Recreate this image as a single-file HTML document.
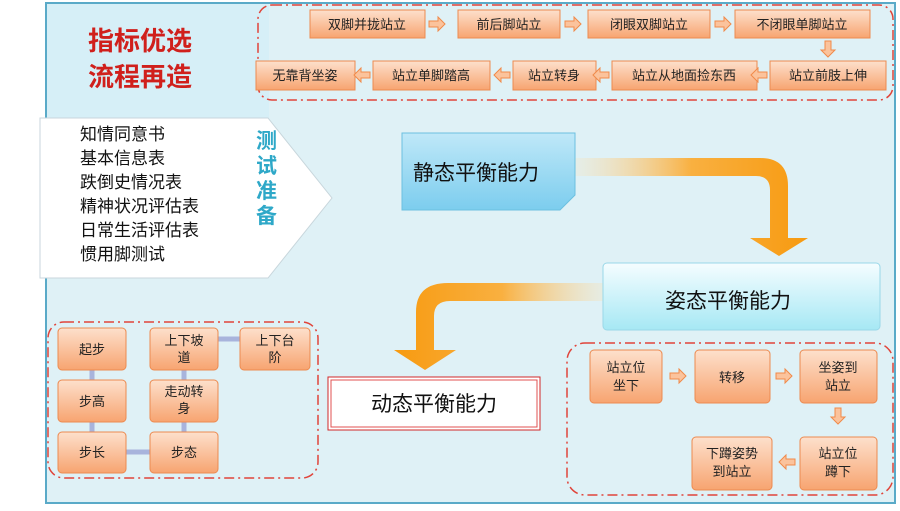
<!DOCTYPE html>
<html><head><meta charset="utf-8"><style>
body{margin:0;width:900px;height:511px;background:#fff;overflow:hidden}
svg{display:block}
text{font-family:"Liberation Sans","Noto Sans CJK SC",sans-serif}
</style></head><body>
<svg width="900" height="511" viewBox="0 0 900 511">
<defs>
<linearGradient id="ob" x1="0" y1="0" x2="0" y2="1"><stop offset="0" stop-color="#fde0cc"/><stop offset="1" stop-color="#f7a470"/></linearGradient>
<linearGradient id="bl" x1="0" y1="0" x2="0" y2="1"><stop offset="0" stop-color="#bfe8f8"/><stop offset="1" stop-color="#7ccdee"/></linearGradient>
<linearGradient id="cy" x1="0" y1="0" x2="0" y2="1"><stop offset="0" stop-color="#f5fdff"/><stop offset="1" stop-color="#a6e8f4"/></linearGradient>
<linearGradient id="ar1" x1="0" y1="0" x2="1" y2="0"><stop offset="0" stop-color="#fbe0b0" stop-opacity="0.2"/><stop offset="0.5" stop-color="#f9b040"/><stop offset="1" stop-color="#f79a10"/></linearGradient>
<linearGradient id="ar2" x1="1" y1="0" x2="0" y2="0"><stop offset="0" stop-color="#fbe0b0" stop-opacity="0.2"/><stop offset="0.5" stop-color="#f9b040"/><stop offset="1" stop-color="#f79a10"/></linearGradient>
<g id="rarr"><path d="M0,-3h9v-4l7,7l-7,7v-4h-9z" fill="#fbc39c" stroke="#f08a4a" stroke-width="1"/></g>
</defs>
<rect x="46" y="3" width="849" height="500" fill="#dff1f6" stroke="#5aaac8" stroke-width="2"/>
<rect x="47" y="4" width="222" height="114" fill="#d6eff7"/>
<text x="88" y="50" font-size="26" font-weight="bold" fill="#d0201c">指标优选</text>
<text x="88" y="86" font-size="26" font-weight="bold" fill="#d0201c">流程再造</text>
<!-- pentagon -->
<path d="M40,118 H268 L332,198 L268,278 H40 Z" fill="#ffffff" stroke="#c8d6dc" stroke-width="1"/>
<g font-size="17" fill="#111">
<text x="80" y="140">知情同意书</text><text x="80" y="164">基本信息表</text><text x="80" y="188">跌倒史情况表</text>
<text x="80" y="212">精神状况评估表</text><text x="80" y="236">日常生活评估表</text><text x="80" y="260">惯用脚测试</text></g>
<g font-size="21" font-weight="bold" fill="#2ea8c8"><text x="256" y="148">测</text><text x="256" y="173">试</text><text x="256" y="198">准</text><text x="256" y="223">备</text></g>
<!-- top dashed -->
<rect x="258" y="5" width="635" height="95" rx="14" fill="none" stroke="#e0443a" stroke-width="1.5" stroke-dasharray="10,4,2,4"/>
<g font-size="13" fill="#222" text-anchor="middle">
<rect x="310" y="10" width="115" height="28" fill="url(#ob)" stroke="#ec8a50"/><text x="367" y="29">双脚并拢站立</text>
<rect x="458" y="10" width="102" height="28" fill="url(#ob)" stroke="#ec8a50"/><text x="509" y="29">前后脚站立</text>
<rect x="588" y="10" width="122" height="28" fill="url(#ob)" stroke="#ec8a50"/><text x="649" y="29">闭眼双脚站立</text>
<rect x="735" y="10" width="135" height="28" fill="url(#ob)" stroke="#ec8a50"/><text x="802" y="29">不闭眼单脚站立</text>
<rect x="256" y="61" width="99" height="29" fill="url(#ob)" stroke="#ec8a50"/><text x="305" y="80">无靠背坐姿</text>
<rect x="373" y="61" width="117" height="29" fill="url(#ob)" stroke="#ec8a50"/><text x="431" y="80">站立单脚踏高</text>
<rect x="513" y="61" width="83" height="29" fill="url(#ob)" stroke="#ec8a50"/><text x="554" y="80">站立转身</text>
<rect x="612" y="61" width="145" height="29" fill="url(#ob)" stroke="#ec8a50"/><text x="684" y="80">站立从地面捡东西</text>
<rect x="770" y="61" width="116" height="29" fill="url(#ob)" stroke="#ec8a50"/><text x="828" y="80">站立前肢上伸</text>
</g>
<use href="#rarr" x="429" y="24"/><use href="#rarr" x="565" y="24"/><use href="#rarr" x="715" y="24"/>
<use href="#rarr" transform="translate(828,41) rotate(90)"/>
<use href="#rarr" transform="translate(767,75) rotate(180)"/>
<use href="#rarr" transform="translate(609,75) rotate(180)"/>
<use href="#rarr" transform="translate(510,75) rotate(180)"/>
<use href="#rarr" transform="translate(370,75) rotate(180)"/>
<!-- arrows big -->
<path d="M575,158 H760 Q788,158 788,186 V238 H808 L779,256 L750,238 H770 V190 Q770,176 756,176 H575 Z" fill="url(#ar1)"/>
<path d="M610,283 H448 Q416,283 416,312 V350 H394 L425,370 L456,350 H434 V316 Q434,301 450,301 H610 Z" fill="url(#ar2)"/>
<!-- static -->
<path d="M402,133 H575 V195 L560,210 H402 Z" fill="url(#bl)" stroke="#6cc0e0"/>
<text x="413" y="180" font-size="21" fill="#111">静态平衡能力</text>
<rect x="603" y="263" width="277" height="67" rx="4" fill="url(#cy)" stroke="#9ad8e8"/>
<text x="665" y="308" font-size="21" fill="#111">姿态平衡能力</text>
<rect x="328" y="377" width="212" height="53" fill="#fff" stroke="#d02828" stroke-width="1"/>
<rect x="331" y="380" width="206" height="47" fill="none" stroke="#e05050" stroke-width="1"/>
<text x="434" y="411" font-size="21" fill="#111" text-anchor="middle">动态平衡能力</text>
<!-- left dashed -->
<rect x="48" y="322" width="270" height="156" rx="16" fill="none" stroke="#e0443a" stroke-width="1.5" stroke-dasharray="10,4,2,4"/>
<g stroke="#a8b4dc" stroke-width="5"><line x1="92" y1="370" x2="92" y2="432"/><line x1="184" y1="370" x2="184" y2="432"/><line x1="126" y1="452" x2="150" y2="452"/><line x1="218" y1="339" x2="240" y2="339"/></g>
<g font-size="13" fill="#222" text-anchor="middle">
<rect x="58" y="328" width="68" height="42" rx="4" fill="url(#ob)" stroke="#ec8a50"/><text x="92" y="354">起步</text>
<rect x="150" y="328" width="68" height="42" rx="4" fill="url(#ob)" stroke="#ec8a50"/><text x="184" y="345">上下坡</text><text x="184" y="362">道</text>
<rect x="240" y="328" width="70" height="42" rx="4" fill="url(#ob)" stroke="#ec8a50"/><text x="275" y="345">上下台</text><text x="275" y="362">阶</text>
<rect x="58" y="380" width="68" height="42" rx="4" fill="url(#ob)" stroke="#ec8a50"/><text x="92" y="406">步高</text>
<rect x="150" y="380" width="68" height="42" rx="4" fill="url(#ob)" stroke="#ec8a50"/><text x="184" y="396">走动转</text><text x="184" y="413">身</text>
<rect x="58" y="432" width="68" height="41" rx="4" fill="url(#ob)" stroke="#ec8a50"/><text x="92" y="457">步长</text>
<rect x="150" y="432" width="68" height="41" rx="4" fill="url(#ob)" stroke="#ec8a50"/><text x="184" y="457">步态</text>
</g>
<!-- right dashed -->
<rect x="567" y="343" width="326" height="152" rx="18" fill="none" stroke="#e0443a" stroke-width="1.5" stroke-dasharray="10,4,2,4"/>
<g font-size="13" fill="#222" text-anchor="middle">
<rect x="590" y="350" width="72" height="53" rx="4" fill="url(#ob)" stroke="#ec8a50"/><text x="626" y="372">站立位</text><text x="626" y="390">坐下</text>
<rect x="695" y="350" width="75" height="53" rx="4" fill="url(#ob)" stroke="#ec8a50"/><text x="732" y="382">转移</text>
<rect x="800" y="350" width="77" height="53" rx="4" fill="url(#ob)" stroke="#ec8a50"/><text x="838" y="372">坐姿到</text><text x="838" y="390">站立</text>
<rect x="800" y="437" width="77" height="53" rx="4" fill="url(#ob)" stroke="#ec8a50"/><text x="838" y="458">站立位</text><text x="838" y="476">蹲下</text>
<rect x="692" y="437" width="80" height="53" rx="4" fill="url(#ob)" stroke="#ec8a50"/><text x="732" y="458">下蹲姿势</text><text x="732" y="476">到站立</text>
</g>
<use href="#rarr" x="670" y="376"/><use href="#rarr" x="776" y="376"/>
<use href="#rarr" transform="translate(838,408) rotate(90)"/>
<use href="#rarr" transform="translate(795,462) rotate(180)"/>
</svg>
</body></html>
